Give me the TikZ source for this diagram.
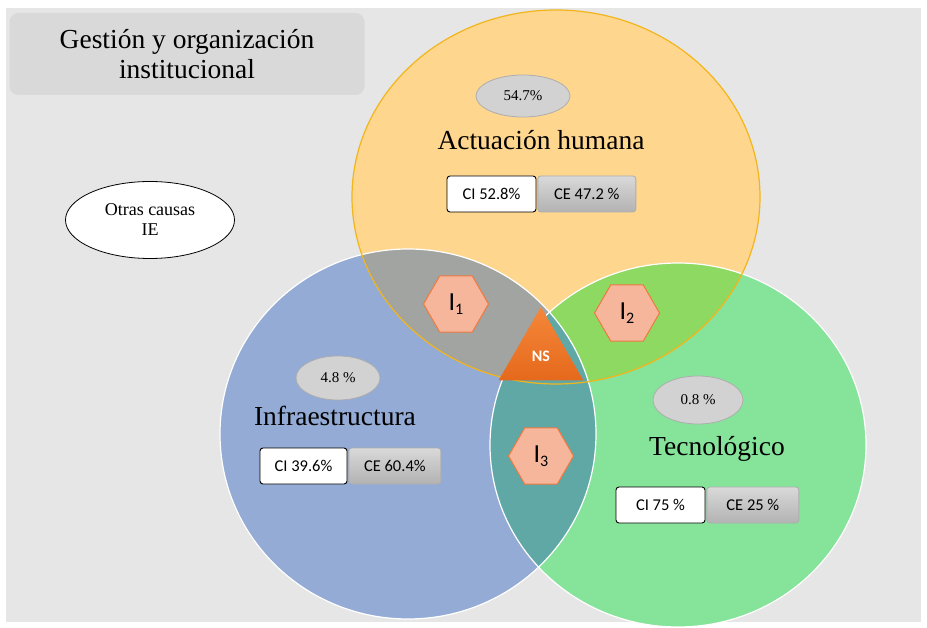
\documentclass[tikz,border=0pt]{standalone}
\usepackage{fontspec}
\setmainfont{Liberation Serif}
\newfontfamily\calfont{Carlito}
\usetikzlibrary{shapes.geometric, positioning}

\definecolor{panelgray}{HTML}{E6E6E6}
\definecolor{titlegray}{HTML}{D9D9D9}
\definecolor{humfill}{HTML}{FED68E}
\definecolor{humedge}{HTML}{F2B51C}
\definecolor{infrafill}{HTML}{93ABD5}
\definecolor{tecfill}{HTML}{86E39A}
\definecolor{huminfra}{HTML}{A1A4A0}
\definecolor{humtec}{HTML}{8DD962}
\definecolor{infratec}{HTML}{5FA8A6}
\definecolor{hexfill}{HTML}{F5B69C}
\definecolor{hexedge}{HTML}{EE7A3F}
\definecolor{nstop}{HTML}{F5873A}
\definecolor{nsbottom}{HTML}{E5691C}
\definecolor{pctfill}{HTML}{D2D2D2}
\definecolor{pctedge}{HTML}{AEAEAE}

\def\humpath{(556,197) ellipse [x radius=204, y radius=187]}
\def\infrapath{(408,434) ellipse [x radius=188, y radius=185]}
\def\tecpath{(678,445) ellipse [x radius=188, y radius=182]}
\newcommand{\isub}[1]{{\calfont\fontsize{26}{26}\selectfont I\raisebox{-0.3ex}{\fontsize{16}{16}\selectfont #1}}}

\begin{document}
\begin{tikzpicture}[x=1pt, y=-1pt,
    pct/.style={ellipse, draw=pctedge, fill=pctfill, line width=0.8pt,
      font=\fontsize{15}{15}\selectfont},
    area/.style={font=\fontsize{27.5}{30}\selectfont},
    cibox/.style={draw=black, fill=white, rounded corners=3pt, line width=0.9pt,
      minimum height=36pt, font=\calfont\fontsize{16.5}{16.5}\selectfont},
    cebox/.style={draw=pctedge, top color=titlegray, bottom color=pctfill!85!black,
      rounded corners=3pt, line width=0.8pt, minimum height=36pt,
      font=\calfont\fontsize{16.5}{16.5}\selectfont},
    hexa/.style={regular polygon, regular polygon sides=6, minimum size=65pt,
      fill=hexfill, draw=hexedge, line width=1pt, inner sep=0pt}]
  \useasboundingbox (0,0) rectangle (927,628);
  \fill[white] (0,0) rectangle (927,628);
  \fill[panelgray] (6,8) rectangle (921,622);

  % title
  \node (title) [fill=titlegray, rounded corners=9pt, minimum width=355pt,
    minimum height=82pt, align=center, font=\fontsize{27.5}{30}\selectfont]
    at (187,54) {Gestión y organización\\institucional};

  % venn
  \fill[infrafill] \infrapath;
  \fill[tecfill] \tecpath;
  \fill[humfill] \humpath;
  \begin{scope}
    \clip \humpath;
    \fill[huminfra] \infrapath;
    \fill[humtec] \tecpath;
  \end{scope}
  \begin{scope}
    \clip \infrapath;
    \fill[infratec] \tecpath;
  \end{scope}
  \draw[white, line width=1.2pt] \infrapath;
  \draw[white, line width=1.2pt] \tecpath;
  \draw[humedge, line width=1.2pt] \humpath;

  \node (otras) [ellipse, draw=black, fill=white, line width=0.8pt,
    minimum width=169pt, minimum height=77pt, align=center,
    font=\fontsize{18}{20}\selectfont] at (150,220) {Otras causas\\IE};

  % actuacion humana
  \node (hum) [area] at (541,140) {Actuación humana};
  \node (humpct) [pct, minimum width=94pt, minimum height=42pt] at (523,96) {54.7\%};
  \node (humci) [cibox, minimum width=89pt] at (491.5,194) {CI 52.8\%};
  \node (humce) [cebox, minimum width=98pt, right=1pt of humci] {CE 47.2 \%};

  % infraestructura
  \node (infra) [area] at (335,416) {Infraestructura};
  \node (infrapct) [pct, minimum width=84pt, minimum height=44pt] at (338,378) {4.8 \%};
  \node (infraci) [cibox, minimum width=87pt] at (303.5,466) {CI 39.6\%};
  \node (infrace) [cebox, minimum width=92pt, right=1pt of infraci] {CE 60.4\%};

  % tecnologico
  \node (tec) [area] at (717,449) {Tecnológico};
  \node (tecpct) [pct, minimum width=90pt, minimum height=48pt] at (698,400) {0.8 \%};
  \node (tecci) [cibox, minimum width=89pt] at (660.5,505) {CI 75 \%};
  \node (tecce) [cebox, minimum width=92pt, right=1pt of tecci] {CE 25 \%};

  % intersections
  \node (i1) [hexa] at (456,304) {\isub{1}};
  \node (i2) [hexa] at (627,313) {\isub{2}};
  \node (i3) [hexa] at (541,456) {\isub{3}};
  \node (ns) [regular polygon, regular polygon sides=3, minimum size=98pt,
    top color=nstop, bottom color=nsbottom, inner sep=0pt, text=white,
    font=\calfont\bfseries\fontsize{16}{16}\selectfont] at (541,356) {\raisebox{-3pt}{NS}};
\end{tikzpicture}
\end{document}
